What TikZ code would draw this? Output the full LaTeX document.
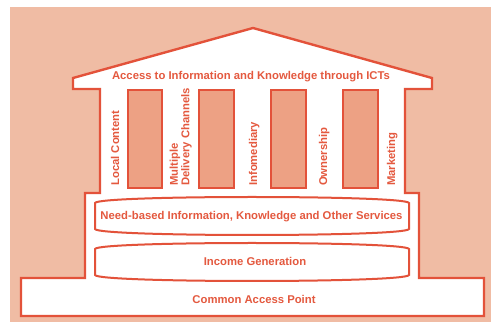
\documentclass[tikz,border=0pt]{standalone}
\usepackage{fontspec}
\setmainfont{Liberation Sans}
\definecolor{bgsalmon}{HTML}{F0BCA4}
\definecolor{pillarfill}{HTML}{EDA184}
\definecolor{linered}{HTML}{E3523A}
\definecolor{textred}{HTML}{E4593F}
\tikzset{
  outline/.style={draw=linered, line width=2.4pt, line join=miter, fill=white},
  pillarbox/.style={draw=linered, line width=2pt, fill=pillarfill},
  barrel/.style={draw=linered, line width=2pt, fill=white},
  lbl/.style={text=textred, font=\fontsize{11.3}{11.5}\selectfont\bfseries, inner sep=0pt},
  vlbl/.style={lbl, rotate=90, anchor=base west},
}
\begin{document}
\begin{tikzpicture}[x=1pt,y=-1pt]
\useasboundingbox (0,0) rectangle (491,323);
\fill[bgsalmon] (10,7) rectangle (491,322);
% building outline
\draw[outline] (73,78) -- (253,28) -- (432,78) -- (432,89) -- (405,89) -- (405,193)
  -- (419,193) -- (419,278) -- (484,278) -- (484,316) -- (21,316) -- (21,278)
  -- (85,278) -- (85,193) -- (100,193) -- (100,89) -- (73,89) -- cycle;
% pillars
\draw[pillarbox] (128,90) rectangle (162,188);
\draw[pillarbox] (199,90) rectangle (234,188);
\draw[pillarbox] (271,90) rectangle (306,188);
\draw[pillarbox] (343,90) rectangle (378,188);
% barrels
\draw[barrel] (95,229) -- (95,203) .. controls (97,195) and (407,195) .. (409,203)
  -- (409,229) .. controls (407,237) and (97,237) .. (95,229) -- cycle;
\draw[barrel] (95,275) -- (95,249) .. controls (97,241) and (407,241) .. (409,249)
  -- (409,275) .. controls (407,283) and (97,283) .. (95,275) -- cycle;
% texts
\node[lbl, anchor=base] (roof) at (251,80) {Access to Information and Knowledge through ICTs};
\node[vlbl] (local) at (119,186) {Local Content};
\node[lbl, rotate=90, anchor=south west, align=left] (multi) at (192,186) {Multiple\\Delivery Channels};
\node[vlbl] (info) at (257,186) {Infomediary};
\node[vlbl] (own) at (327,186) {Ownership};
\node[vlbl] (mkt) at (395,186) {Marketing};
\node[lbl, anchor=base] (need) at (251.5,220) {Need-based Information, Knowledge and Other Services};
\node[lbl, anchor=base] (income) at (255,266) {Income Generation};
\node[lbl, anchor=base] (cap) at (254,304) {Common Access Point};
\end{tikzpicture}
\end{document}
